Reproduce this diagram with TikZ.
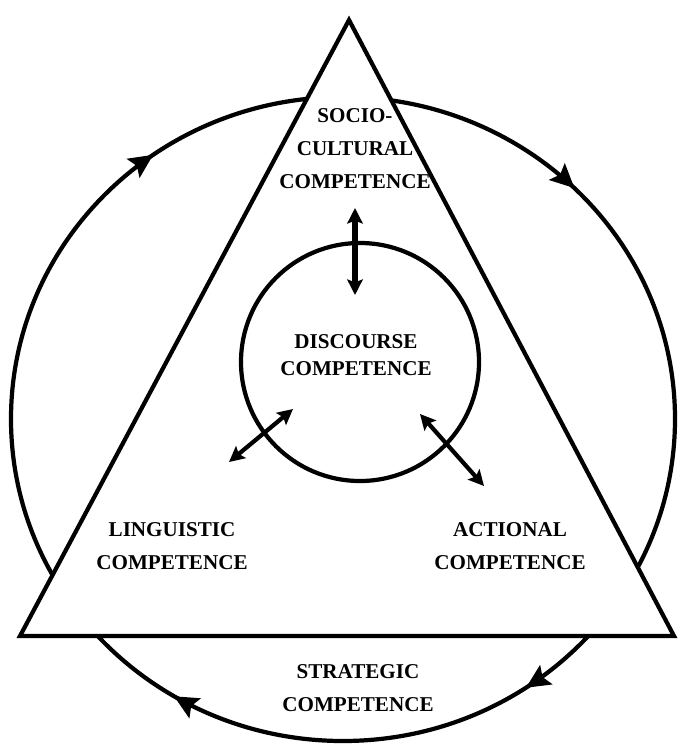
\documentclass[tikz,border=0pt]{standalone}
\usepackage{fontspec}
\setmainfont{Liberation Serif}
\usetikzlibrary{arrows.meta,decorations.markings}

\tikzset{
  comptext/.style={font=\bfseries\fontsize{15}{23.5}\selectfont, align=center, inner sep=0pt},
  bigline/.style={line width=3pt},
  linkhead/.tip={Stealth[length=11pt,width=11pt,inset=2pt]},
  cyclehead/.tip={Stealth[length=17pt,width=16pt,inset=3pt]},
  link/.style={line width=3pt, linkhead-linkhead}
}

\begin{document}
\begin{tikzpicture}[x=0.025cm, y=-0.025cm]
\useasboundingbox (0,0) rectangle (679,744);

% Draw the outer cycle with its arrows
\draw[bigline, postaction={decorate}, decoration={markings,
    mark=at position 0.156 with {\arrow{cyclehead}},
    mark=at position 0.336 with {\arrow{cyclehead}},
    mark=at position 0.652 with {\arrow{cyclehead}},
    mark=at position 0.874 with {\arrow{cyclehead}}}]
  (343,419) ellipse [x radius=332, y radius=322];

% Draw the triangle on top of the cycle
\draw[bigline, fill=white, line join=miter] (349,20) -- (20,636) -- (674,636) -- cycle;

% Draw the inner circle
\draw[bigline] (360,362) circle (119);

% Labels
\node[comptext] (socio) at (355,149) {SOCIO-\\CULTURAL\\COMPETENCE};
\node[comptext, font=\bfseries\fontsize{15}{19.5}\selectfont] (discourse) at (356,355) {DISCOURSE\\COMPETENCE};
\node[comptext] (linguistic) at (172,546) {LINGUISTIC\\COMPETENCE};
\node[comptext] (actional) at (510,546) {ACTIONAL\\COMPETENCE};
\node[comptext] (strategic) at (358,688) {STRATEGIC\\COMPETENCE};

% Ends of the double arrows
\coordinate (s1) at (355,208);
\coordinate (s2) at (355,295);
\coordinate (l1) at (229,462);
\coordinate (l2) at (293,409);
\coordinate (a1) at (420,414);
\coordinate (a2) at (484,486);

% Draw the links to the inner circle
\draw[link, line width=4pt] (s1) -- (s2);
\draw[link] (l1) -- (l2);
\draw[link] (a1) -- (a2);

\end{tikzpicture}
\end{document}
